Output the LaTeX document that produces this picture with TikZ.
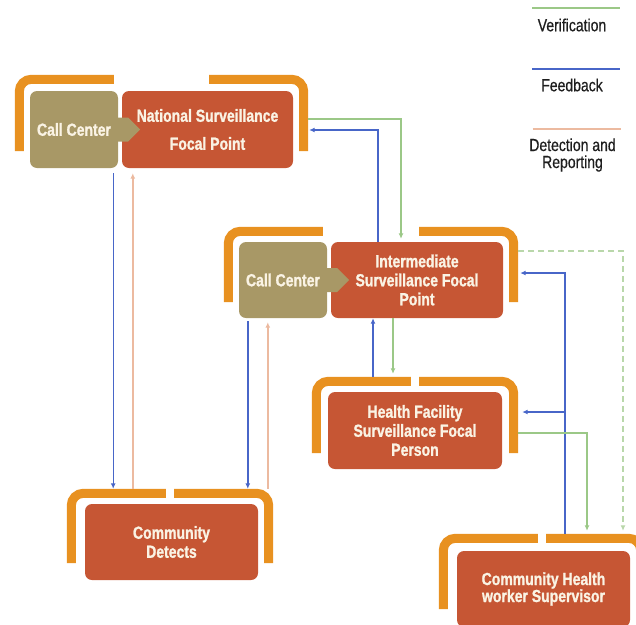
\documentclass[tikz,border=0pt]{standalone}
\usepackage{fontspec}
\setmainfont{Liberation Sans}[FakeStretch=0.8, BoldFeatures={FakeBold=1.2}]
\newfontfamily\legendfont{Liberation Sans}[FakeStretch=0.8, FakeBold=0.5]
\usetikzlibrary{arrows.meta}

\definecolor{brkorange}{RGB}{232,145,32}
\definecolor{boxred}{RGB}{198,86,52}
\definecolor{boxtan}{RGB}{168,152,102}
\definecolor{txtcream}{RGB}{250,243,228}
\definecolor{fbblue}{RGB}{72,102,200}
\definecolor{vergreen}{RGB}{155,200,135}
\definecolor{verlight}{RGB}{185,215,170}
\definecolor{drpeach}{RGB}{236,186,160}
\definecolor{legtext}{RGB}{30,30,30}

% two orange corner brackets hugging the top of a group frame
\newcommand\drawbrackets[1]{%
  \draw[brk] ([shift={(99,4.5)}]#1.north west) -- ([shift={(4.5,4.5)}]#1.north west) -- ([xshift=4.5]#1.south west);
  \draw[brk] ([shift={(-99,4.5)}]#1.north east) -- ([shift={(-4.5,4.5)}]#1.north east) -- ([xshift=-4.5]#1.south east);}

% block-arrow pointing out of a call-center box
\newcommand\drawchevron[1]{%
  \fill[boxtan] ([shift={(-3,-12)}]#1.east) -- ([shift={(10,-12)}]#1.east) -- ([shift={(22,0)}]#1.east)
    -- ([shift={(10,12)}]#1.east) -- ([shift={(-3,12)}]#1.east) -- cycle;}

\begin{document}
\begin{tikzpicture}[x=1pt,y=-1pt,
  box/.style={rectangle, rounded corners=7pt, inner sep=0pt, align=center, text=txtcream,
    font=\bfseries\fontsize{17.5}{19}\selectfont},
  redbox/.style={box, fill=boxred},
  tanbox/.style={box, fill=boxtan},
  frame/.style={rectangle, inner sep=0pt, draw=none},
  brk/.style={draw=brkorange, line width=9pt, rounded corners=12pt},
  link/.style={line width=1.4pt, -{Latex[length=5.5pt,width=5pt]}},
  fb/.style={link, draw=fbblue},
  ver/.style={link, draw=vergreen},
  verdash/.style={link, draw=verlight, dash pattern=on 6pt off 4pt},
  dr/.style={link, draw=drpeach},
  legend/.style={text=legtext, align=center, font=\legendfont\fontsize{17.5}{17}\selectfont},
  legline/.style={line width=1.5pt},
  ]
\useasboundingbox (0,0) rectangle (636,624);
\clip (0,0) rectangle (636,624);

% group frames (outer extent of the orange brackets)
\node[frame, minimum width=293, minimum height=76] (natF) at (161.5,113) {};
\node[frame, minimum width=294, minimum height=75] (intF) at (371,264.5) {};
\node[frame, minimum width=206, minimum height=76] (hfF)  at (415,415) {};
\node[frame, minimum width=206, minimum height=74] (cdF)  at (170,526) {};
\node[frame, minimum width=206, minimum height=75] (chwF) at (542,571.5) {};

\drawbrackets{natF}
\drawbrackets{intF}
\drawbrackets{hfF}
\drawbrackets{cdF}
\drawbrackets{chwF}

% boxes
\node[tanbox, minimum width=88, minimum height=77] (natcc) at (74,129.5) {Call Center};
\node[redbox, minimum width=171, minimum height=77, font=\bfseries\fontsize{17.5}{28}\selectfont]
  (nat) at (207.5,129.5) {National Surveillance\\Focal Point};
\node[tanbox, minimum width=88, minimum height=76] (intcc) at (283,280) {Call Center};
\node[redbox, minimum width=172, minimum height=76] (int) at (417,280) {Intermediate\\Surveillance Focal\\Point};
\node[redbox, minimum width=174, minimum height=77] (hf) at (415,430.5) {Health Facility\\Surveillance Focal\\Person};
\node[redbox, minimum width=173, minimum height=76] (cd) at (171.5,542) {Community\\Detects};
\node[redbox, minimum width=173, minimum height=76, font=\bfseries\fontsize{17.5}{17}\selectfont]
  (chw) at (543.5,589) {Community Health\\worker Supervisor};

\drawchevron{natcc}
\drawchevron{intcc}

% national level <-> community
\draw[fb, shorten <=5pt] ([xshift=-5]natcc.south east) -- ([xshift=-5]natcc.south east |- cdF.north);
\draw[dr, shorten >=5pt] ([xshift=11]nat.south west |- cdF.north) -- ([xshift=11]nat.south west);

% intermediate call center <-> community
\draw[fb, shorten <=3pt] ([xshift=9]intcc.south west) -- ([xshift=9]intcc.south west |- cdF.north);
\draw[dr, shorten >=4pt] ([xshift=29]intcc.south west |- cdF.north) -- ([xshift=29]intcc.south west);

% national <-> intermediate
\draw[ver, shorten >=3pt] ([yshift=-6]natF.east) -| ([xshift=-16]int.north);
\draw[fb, shorten >=1pt] ([xshift=-39]int.north) |- ([yshift=-17]natF.east);

% intermediate <-> health facility
\draw[fb] ([xshift=-42]hfF.north) -- ([xshift=-42]hfF.north |- int.south);
\draw[ver, shorten >=3pt] ([xshift=-24]int.south) -- ([xshift=-24]int.south |- hfF.north);

% community health worker supervisor links
\coordinate (hfin)   at ([yshift=3]hfF.east);
\coordinate (hfout)  at ([yshift=-18]hfF.east);
\coordinate (intout) at ([yshift=13.5]intF.east);
\draw[fb, shorten >=2pt] ([xshift=23]chwF.north) |- ([yshift=-8.5]intF.east);
\draw[fb, shorten >=4pt] ([xshift=23]chwF.north |- hfin) -- (hfin);
\draw[ver, shorten >=3pt] (hfout) -| ([xshift=45]chwF.north);
\draw[verdash, shorten >=3pt] (intout) -| ([xshift=81]chwF.north);

% legend
\node[legend] (lgver) at (572,25) {Verification};
\node[legend] (lgfb)  at (572,85) {Feedback};
\node[legend] (lgdr)  at (572.5,155) {Detection and\\Reporting};
\draw[legline, vergreen] ([shift={(-40,-17)}]lgver.center) -- ([shift={(48,-17)}]lgver.center);
\draw[legline, fbblue]   ([shift={(-40,-16)}]lgfb.center)  -- ([shift={(48,-16)}]lgfb.center);
\draw[legline, drpeach]  ([shift={(-40,-26)}]lgdr.center)  -- ([shift={(48,-26)}]lgdr.center);
\end{tikzpicture}
\end{document}
